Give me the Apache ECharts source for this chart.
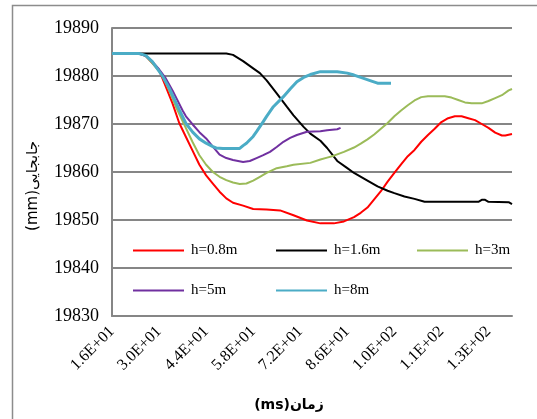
<!DOCTYPE html>
<html>
<head>
<meta charset="utf-8">
<script src="https://cdn.jsdelivr.net/npm/echarts@6/dist/echarts.min.js"></script>
<style>html,body{margin:0;padding:0;background:#fff;}#c{width:537px;height:419px;}</style>
</head>
<body>
<div id="c"></div>
<script>
// Time categories (ms)
const timeStart = 16, timeEnd = 135;
const categories = [];
for (let t = timeStart; t <= timeEnd; t++) categories.push(String(t));

// Series names
const seriesNames = ['h=0.8m', 'h=1.6m', 'h=3m', 'h=5m', 'h=8m'];

// h=0.8m
const t08 = [16,24,26,28,30,32,34,36,38,40,42,44,46,48,50,52,55,58,62,66,70,74,78,82,85,88,90,92,94,96,98,100,102,104,106,108,110,112,114,116,118,120,122,124,126,128,130,132,133,135];
const v08 = [19884.7,19884.7,19884.2,19882.7,19881.2,19877.8,19874.3,19870.2,19867.3,19864.4,19861.5,19859.3,19857.6,19855.9,19854.5,19853.6,19853.0,19852.3,19852.2,19852.0,19851.0,19849.9,19849.3,19849.3,19849.7,19850.6,19851.5,19852.6,19854.3,19856.0,19858.0,19859.8,19861.6,19863.3,19864.6,19866.3,19867.7,19869.0,19870.4,19871.2,19871.6,19871.6,19871.2,19870.8,19870.0,19869.2,19868.2,19867.6,19867.6,19867.9];

// h=1.6m
const t16 = [16,50,52,55,58,60,62,65,68,70,73,75,78,80,83,86,88,92,95,98,100,103,106,109,112,125,126,127,128,134,135];
const v16 = [19884.7,19884.7,19884.4,19883.1,19881.6,19880.6,19879.1,19876.4,19873.6,19871.8,19869.4,19868.0,19866.5,19865.0,19862.3,19860.8,19859.8,19858.2,19857.0,19856.1,19855.6,19854.9,19854.4,19853.8,19853.8,19853.8,19854.2,19854.2,19853.8,19853.7,19853.3];

// h=3m
const t3 = [16,24,26,28,30,31,33,35,37,40,42,44,46,48,50,52,54,56,58,60,62,65,68,70,75,78,80,82,85,88,90,92,94,96,98,100,102,104,106,108,110,115,117,119,121,123,126,128,130,132,134,135];
const v3 = [19884.7,19884.7,19884.2,19882.7,19881.0,19880.1,19877.0,19873.6,19870.6,19866.2,19863.5,19861.5,19860.0,19859.0,19858.3,19857.8,19857.5,19857.6,19858.2,19859.0,19859.8,19860.8,19861.2,19861.5,19861.9,19862.6,19863.0,19863.4,19864.2,19865.1,19865.9,19866.8,19867.8,19869.0,19870.2,19871.6,19872.8,19873.9,19874.9,19875.6,19875.8,19875.8,19875.5,19875.0,19874.5,19874.3,19874.3,19874.8,19875.4,19876.0,19877.0,19877.3];

// h=5m
const t5 = [16,24,26,28,30,32,34,37,38,40,42,44,46,48,50,52,55,57,59,61,63,65,67,69,71,74,78,80,83,84];
const v5 = [19884.7,19884.7,19884.2,19883.0,19881.4,19879.5,19877.0,19872.8,19871.6,19869.9,19868.3,19867.0,19865.3,19863.6,19862.9,19862.5,19862.1,19862.3,19862.9,19863.5,19864.2,19865.2,19866.3,19867.1,19867.7,19868.4,19868.5,19868.7,19868.9,19869.2];

// h=8m
const t8 = [16,24,26,28,30,31,33,36,38,40,42,44,46,47,49,54,55,56,58,59,61,62,64,67,69,71,73,75,78,83,86,88,90,93,95,99];
const v8 = [19884.7,19884.7,19884.3,19883.0,19881.0,19880.0,19877.5,19873.0,19870.1,19868.3,19866.9,19866.0,19865.3,19865.0,19864.9,19864.9,19865.5,19866.0,19867.4,19868.4,19870.5,19871.6,19873.6,19875.7,19877.3,19878.8,19879.7,19880.3,19880.9,19880.9,19880.6,19880.2,19879.7,19879.0,19878.5,19878.5];

// Y axis
const yMin = 19830, yMax = 19890, yStep = 10;

const colors = ['#FF0000', '#000000', '#9BBB59', '#7030A0', '#4BACC6'];
const widths = [2, 2, 2, 2, 3];
const times = [t08, t16, t3, t5, t8];
const vals = [v08, v16, v3, v5, v8];

function fmtSci(v) {
  const n = Number(v);
  let e = Math.floor(Math.log10(n));
  let s = (n / Math.pow(10, e)).toFixed(1);
  if (s === '10.0') { s = '1.0'; e++; }
  return s + 'E+' + String(e).padStart(2, '0');
}

const series = seriesNames.map((name, i) => ({
  name: name,
  type: 'line',
  symbol: 'none',
  smooth: false,
  color: colors[i],
  lineStyle: { width: widths[i], color: colors[i] },
  data: times[i].map((t, j) => [String(t), vals[i][j]]),
  z: 2 + i
}));

const legendPos = [
  { left: 133, top: 243 },
  { left: 276, top: 243 },
  { left: 417, top: 243 },
  { left: 133, top: 283 },
  { left: 276, top: 283 }
];
const legends = seriesNames.map((name, i) => ({
  data: [name],
  left: legendPos[i].left,
  top: legendPos[i].top,
  icon: 'rect',
  itemWidth: 51,
  itemHeight: 2,
  itemGap: 0,
  padding: 0,
  selectedMode: false,
  textStyle: { fontFamily: 'Liberation Serif', fontSize: 15, color: '#000', padding: [0, 0, 0, 2] }
}));

const chart = echarts.init(document.getElementById('c'), null, { renderer: 'canvas' });
chart.setOption({
  animation: false,
  backgroundColor: '#fff',
  grid: { left: 112, top: 28, width: 400, height: 288, containLabel: false },
  legend: legends,
  xAxis: {
    type: 'category',
    data: categories,
    boundaryGap: false,
    axisLine: { show: true, lineStyle: { color: '#868686', width: 2 } },
    axisTick: { show: false },
    axisLabel: {
      interval: 13,
      rotate: 45,
      margin: 13,
      formatter: fmtSci,
      fontFamily: 'Liberation Serif',
      fontSize: 16,
      color: '#000'
    },
    splitLine: { show: false }
  },
  yAxis: {
    type: 'value',
    min: yMin,
    max: yMax,
    interval: yStep,
    axisLine: { show: true, lineStyle: { color: '#868686', width: 2 } },
    axisTick: { show: false },
    axisLabel: { fontFamily: 'Liberation Serif', fontSize: 18, color: '#000', margin: 13, formatter: v => String(v) },
    splitLine: { show: true, lineStyle: { color: '#868686', width: 2 } }
  },
  graphic: [
    { type: 'rect', shape: { x: 12.5, y: 5.5, width: 700, height: 600 }, style: { fill: 'none', stroke: '#8c8c8c', lineWidth: 1.5 }, silent: true, z: -10 },
    { type: 'text', x: 33, y: 186, rotation: Math.PI / 2, style: { text: '(mm)جابجایی', fontFamily: 'DejaVu Sans', fontSize: 15, fill: '#000', align: 'center', verticalAlign: 'middle' } },
    { type: 'text', x: 289, y: 405, style: { text: '(ms)زمان', fontFamily: 'DejaVu Sans', fontWeight: 'bold', fontSize: 14, fill: '#000', align: 'center', verticalAlign: 'middle' } }
  ],
  series: series
});
</script>
</body>
</html>
